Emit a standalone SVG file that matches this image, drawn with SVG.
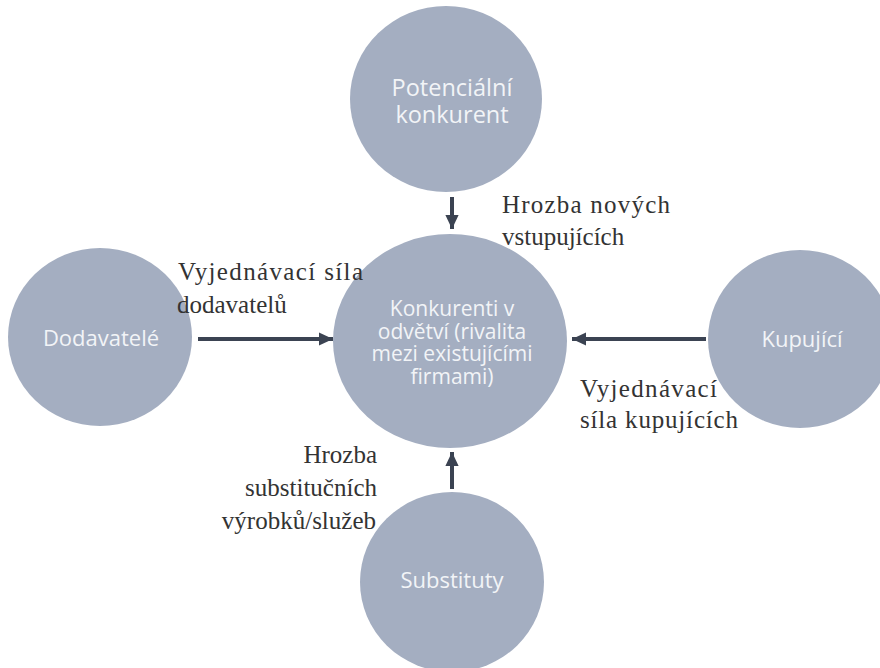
<svg xmlns="http://www.w3.org/2000/svg" width="880" height="668" viewBox="0 0 880 668">
<style>
.node{fill:#a4aec1}
.nt{font-family:"Open Sans",Lato,sans-serif;font-size:22px;fill:#f2f4f7;text-anchor:middle}
.ct{font-size:21px}
.tp{font-size:23.5px}
.lb{font-family:"Liberation Serif",serif;font-size:25px;fill:#333333}
.ar{stroke:#3b4352;stroke-width:4;fill:none;marker-end:url(#ah)}
</style>
<defs>
<marker id="ah" markerWidth="4" markerHeight="4" refX="3.6" refY="2" orient="auto" markerUnits="strokeWidth">
<path d="M0,0.3 L3.6,2 L0,3.7 Z" fill="#3b4352"/>
</marker>
</defs>
<rect width="880" height="668" fill="#ffffff"/>
<g id="connectors">
<line class="ar" x1="452" y1="197" x2="452" y2="229"/>
<line class="ar" x1="198" y1="339" x2="333" y2="339"/>
<line class="ar" x1="706" y1="339" x2="572" y2="339"/>
<line class="ar" x1="452" y1="489" x2="452" y2="452"/>
</g>
<g id="potencialni">
<ellipse class="node" cx="446" cy="99" rx="96" ry="93"/>
<text class="nt tp" x="452" y="96">Potenciální</text>
<text class="nt tp" x="452" y="123">konkurent</text>
</g>
<g id="konkurenti">
<ellipse class="node" cx="450" cy="341" rx="117" ry="107"/>
<text class="nt ct" x="452" y="316">Konkurenti v</text>
<text class="nt ct" x="452" y="338.5">odvětví (rivalita</text>
<text class="nt ct" x="452" y="361">mezi existujícími</text>
<text class="nt ct" x="452" y="383.5">firmami)</text>
</g>
<g id="dodavatele">
<ellipse class="node" cx="100" cy="337" rx="92" ry="89"/>
<text class="nt" x="101" y="346">Dodavatelé</text>
</g>
<g id="kupujici">
<ellipse class="node" cx="800" cy="339" rx="92" ry="89"/>
<text class="nt" x="802" y="347">Kupující</text>
</g>
<g id="substituty">
<ellipse class="node" cx="452" cy="582" rx="92" ry="90"/>
<text class="nt" x="452" y="588">Substituty</text>
</g>
<g id="labels">
<text class="lb" x="502" y="213" textLength="168" lengthAdjust="spacing">Hrozba nových</text>
<text class="lb" x="502" y="245">vstupujících</text>
<text class="lb" x="178" y="280" textLength="185" lengthAdjust="spacing">Vyjednávací síla</text>
<text class="lb" x="177" y="313">dodavatelů</text>
<text class="lb" x="580" y="397" textLength="137" lengthAdjust="spacing">Vyjednávací</text>
<text class="lb" x="580" y="428" textLength="158" lengthAdjust="spacing">síla kupujících</text>
<text class="lb" x="377" y="463" text-anchor="end">Hrozba</text>
<text class="lb" x="377" y="496" text-anchor="end">substitučních</text>
<text class="lb" x="376" y="529" text-anchor="end">výrobků/služeb</text>
</g>
</svg>
